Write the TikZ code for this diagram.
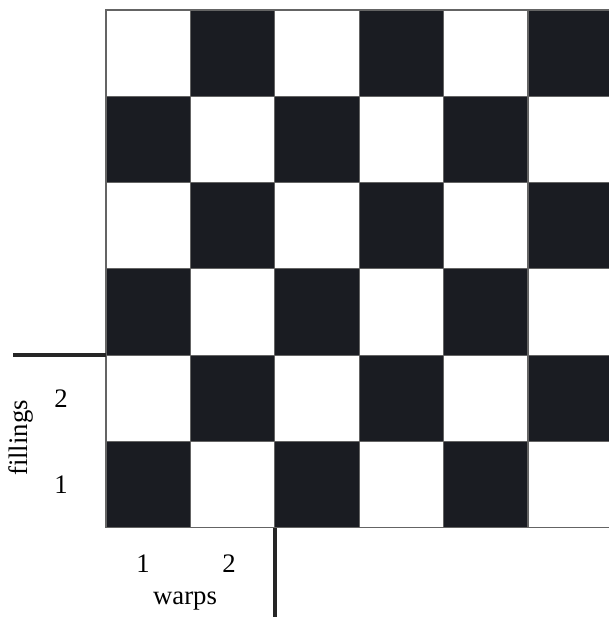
\documentclass[tikz,border=0pt]{standalone}
\usepackage{fontspec}
\setmainfont{Liberation Serif}
\usetikzlibrary{positioning}
\definecolor{tissu}{RGB}{26,28,34}
\definecolor{trait}{RGB}{100,100,100}
\tikzset{
  case0/.style={draw=trait, line width=0.8pt, fill=white},
  case1/.style={draw=trait, line width=0.8pt, fill=tissu},
  axe/.style={line width=2.4pt, draw=black!85},
  lbl/.style={font=\fontsize{19}{22}\selectfont, inner sep=0pt, anchor=base},
}

\begin{document}
\begin{tikzpicture}[x=0.025cm, y=-0.025cm]
  \useasboundingbox (0,0) rectangle (609,617);
  % the weave: 6 warps x 6 fillings
  \begin{scope}
    \clip (0,0) rectangle (609,617);
    \foreach \i in {0,...,5}
      \foreach \j in {0,...,5}{
        \pgfmathtruncatemacro{\p}{mod(\i+\j,2)}
        \draw[case\p] ({106+84.4*\i},{10+86.3*\j}) rectangle ({106+84.4*(\i+1)},{10+86.3*(\j+1)});
      }
  \end{scope}
  % axes
  \coordinate (hg) at (13,355);
  \coordinate (hd) at (106,355);
  \coordinate (vh) at (275,528);
  \coordinate (vb) at (275,617);
  \draw[axe] (hg) -- (hd);
  \draw[axe] (vh) -- (vb);
  % labels
  \node[lbl] (f2) at (61,407) {2};
  \node[lbl] (f1) at (61,493) {1};
  \node[lbl, rotate=90, anchor=center] (fil) at (21,438) {fillings};
  \node[lbl] (w1) at (143,572) {1};
  \node[lbl] (w2) at (229,572) {2};
  \node[lbl] (war) at (185,604) {warps};
\end{tikzpicture}
\end{document}
